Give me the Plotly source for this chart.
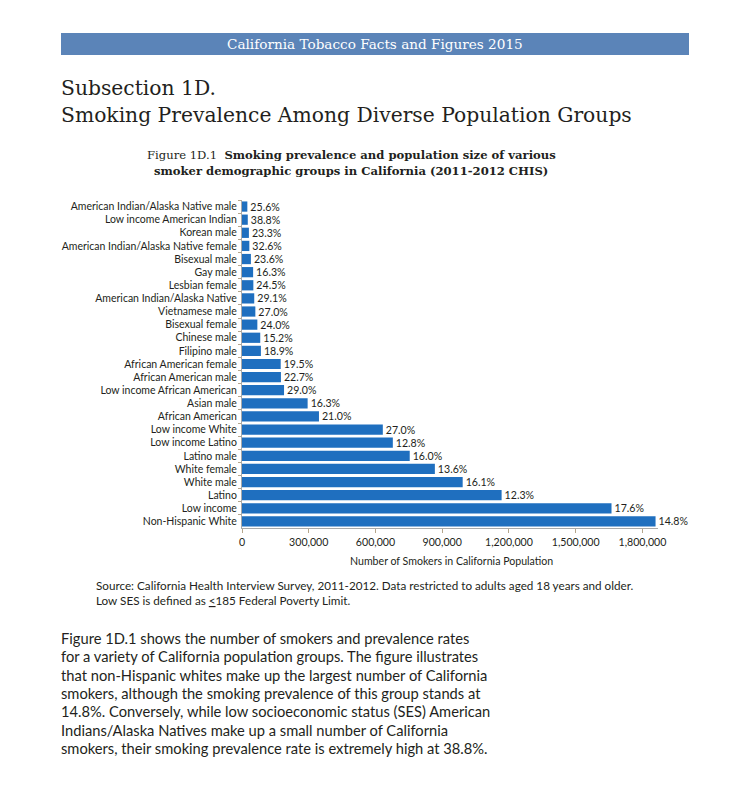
import plotly.graph_objects as go

categories = [
    "American Indian/Alaska Native male", "Low income American Indian", "Korean male",
    "American Indian/Alaska Native female", "Bisexual male", "Gay male", "Lesbian female",
    "American Indian/Alaska Native", "Vietnamese male", "Bisexual female", "Chinese male",
    "Filipino male", "African American female", "African American male",
    "Low income African American", "Asian male", "African American", "Low income White",
    "Low income Latino", "Latino male", "White female", "White male", "Latino",
    "Low income", "Non-Hispanic White",
]
smokers = [
    24000, 26000, 31000, 33000, 40000, 50000, 51000, 55000, 60000, 69000, 82000, 85000,
    174000, 175000, 189000, 295000, 346000, 633000, 678000, 754000, 867000, 992000,
    1167000, 1661000, 1859000,
]
prevalence = [
    "25.6%", "38.8%", "23.3%", "32.6%", "23.6%", "16.3%", "24.5%", "29.1%", "27.0%",
    "24.0%", "15.2%", "18.9%", "19.5%", "22.7%", "29.0%", "16.3%", "21.0%", "27.0%",
    "12.8%", "16.0%", "13.6%", "16.1%", "12.3%", "17.6%", "14.8%",
]
x_ticks = [0, 300000, 600000, 900000, 1200000, 1500000, 1800000]
x_ticklabels = ["0", "300,000", "600,000", "900,000", "1,200,000", "1,500,000", "1,800,000"]

paragraph = [
    "Figure 1D.1 shows the number of smokers and prevalence rates",
    "for a variety of California population groups. The figure illustrates",
    "that non-Hispanic whites make up the largest number of California",
    "smokers, although the smoking prevalence of this group stands at",
    "14.8%. Conversely, while low socioeconomic status (SES) American",
    "Indians/Alaska Natives make up a small number of California",
    "smokers, their smoking prevalence rate is extremely high at 38.8%.",
]

W, H = 741, 801
PL, PR, PT, PB = 242, 658, 200, 528

def fx(px):
    return (px - PL) / (PR - PL)

def fy(py):
    return (PB - py) / (PB - PT)

SANS = "Lato, 'Open Sans', sans-serif"
SLAB = "'DejaVu Serif', serif"
BAR = "#1f6fbf"
TXT = "#231f20"

fig = go.Figure(go.Bar(
    x=smokers, y=categories, orientation="h",
    marker=dict(color=BAR, line=dict(width=0)),
    text=prevalence, textposition="outside", cliponaxis=False, constraintext="none",
    textfont=dict(family=SANS, size=10.6, color=TXT),
    hoverinfo="skip",
))

annotations = []
def add(text, px, py, size, family=SANS, color=TXT, xanchor="left"):
    annotations.append(dict(
        text=text, x=fx(px), y=fy(py), xref="paper", yref="paper",
        xanchor=xanchor, yanchor="middle", showarrow=False,
        font=dict(family=family, size=size, color=color),
    ))

add("California Tobacco Facts and Figures 2015", 375, 44, 13.6, SLAB, "white", "center")
add("Subsection 1D.", 59, 88, 20.3, SLAB)
add("Smoking Prevalence Among Diverse Population Groups", 59, 115, 20.3, SLAB)
add("Figure 1D.1  <b>Smoking prevalence and population size of various</b>", 351, 155, 11.6, SLAB, xanchor="center")
add("<b>smoker demographic groups in California (2011-2012 CHIS)</b>", 351, 171, 11.6, SLAB, xanchor="center")
add("Number of Smokers in California Population", 451, 561, 10.6, xanchor="center")
add("Source: California Health Interview Survey, 2011-2012. Data restricted to adults aged 18 years and older.", 94, 585, 11.7)
add("Low SES is defined as <u>&lt;</u>185 Federal Poverty Limit.", 94, 600, 11.7)
for i, line in enumerate(paragraph):
    add(line, 59, 638 + i * 18.3, 14.7)

fig.update_layout(
    width=W, height=H,
    margin=dict(l=PL, r=W - PR, t=PT, b=H - PB, pad=0),
    paper_bgcolor="white", plot_bgcolor="white",
    showlegend=False, bargap=0.22,
    annotations=annotations,
    shapes=[dict(type="rect", xref="paper", yref="paper",
                 x0=fx(61), x1=fx(689), y0=fy(55), y1=fy(33),
                 fillcolor="#5b84b8", line=dict(width=0), layer="below")],
    xaxis=dict(range=[0, 1870000], tickvals=x_ticks, ticktext=x_ticklabels,
               showgrid=False, zeroline=False, showline=True, linecolor="#a9a9a9",
               linewidth=1, ticks="outside", ticklen=4, tickcolor="#b5a68c",
               tickfont=dict(family=SANS, size=10.6, color=TXT)),
    yaxis=dict(autorange="reversed", showgrid=False, zeroline=False, showline=True,
               linecolor="#a9a9a9", linewidth=1, ticks="outside", ticklen=3,
               tickcolor="#b5a68c", tickson="boundaries", ticklabelstandoff=2,
               tickfont=dict(family=SANS, size=10.5, color=TXT)),
)

fig.write_html("out.html", config={"displayModeBar": False},
               post_script="document.body.style.margin='0';")
